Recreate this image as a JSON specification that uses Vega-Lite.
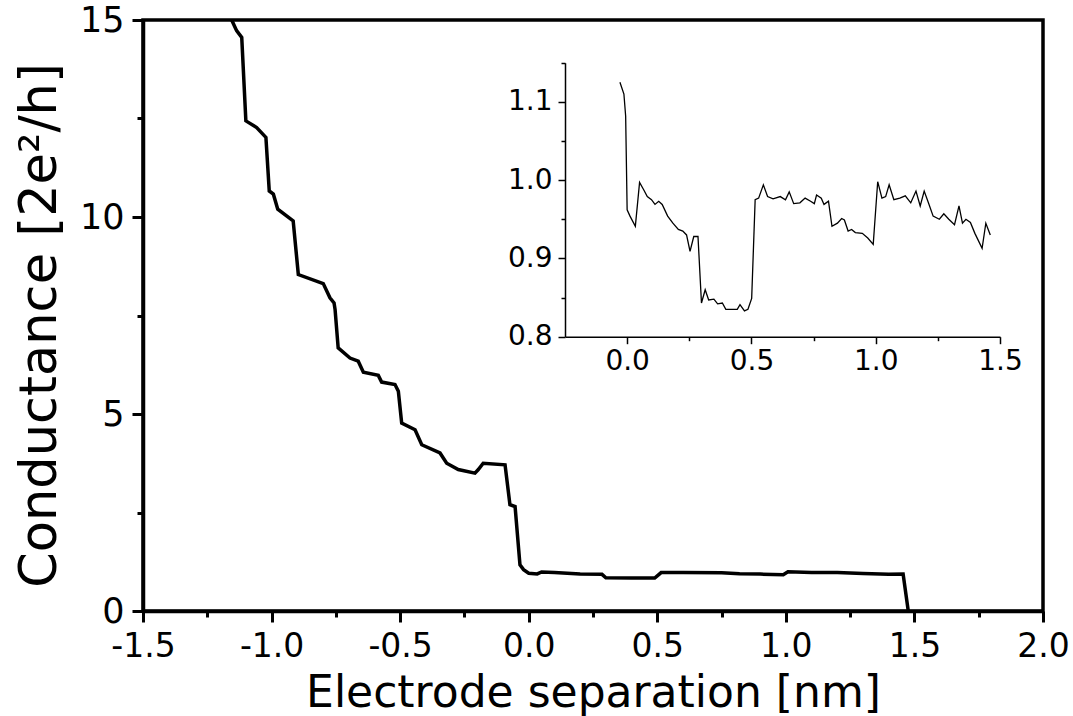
{
  "$schema": "https://vega.github.io/schema/vega-lite/v6.json",
  "width": 900,
  "height": 591,
  "autosize": {"type": "none"},
  "padding": {"left": 143, "top": 20, "right": 30, "bottom": 105},
  "background": "white",
  "config": {
    "view": {"stroke": "black", "strokeWidth": 3.5},
    "font": "DejaVu Sans",
    "axis": {"grid": false, "domainColor": "black", "tickColor": "black", "labelColor": "black", "titleColor": "black", "titleFontWeight": "normal"}
  },
  "datasets": {
    "main": [
      {"x": -1.17, "y": 15.3},
      {"x": -1.155, "y": 15.0},
      {"x": -1.136, "y": 14.73},
      {"x": -1.116, "y": 14.56},
      {"x": -1.1, "y": 12.44},
      {"x": -1.058, "y": 12.27},
      {"x": -1.022, "y": 12.02},
      {"x": -1.009, "y": 10.66},
      {"x": -0.993, "y": 10.58},
      {"x": -0.976, "y": 10.2},
      {"x": -0.916, "y": 9.9},
      {"x": -0.896, "y": 8.54},
      {"x": -0.799, "y": 8.31},
      {"x": -0.773, "y": 7.95},
      {"x": -0.757, "y": 7.82},
      {"x": -0.753, "y": 7.65},
      {"x": -0.741, "y": 6.68},
      {"x": -0.695, "y": 6.42},
      {"x": -0.663, "y": 6.34},
      {"x": -0.643, "y": 6.06},
      {"x": -0.585, "y": 5.98},
      {"x": -0.572, "y": 5.81},
      {"x": -0.52, "y": 5.75},
      {"x": -0.507, "y": 5.58},
      {"x": -0.494, "y": 4.77},
      {"x": -0.442, "y": 4.6},
      {"x": -0.416, "y": 4.22},
      {"x": -0.345, "y": 4.01},
      {"x": -0.319, "y": 3.75},
      {"x": -0.274, "y": 3.59},
      {"x": -0.209, "y": 3.5},
      {"x": -0.196, "y": 3.59},
      {"x": -0.177, "y": 3.75},
      {"x": -0.092, "y": 3.71},
      {"x": -0.073, "y": 2.7},
      {"x": -0.053, "y": 2.65},
      {"x": -0.034, "y": 1.17},
      {"x": -0.02, "y": 1.05},
      {"x": 0.0, "y": 0.96},
      {"x": 0.033, "y": 0.94},
      {"x": 0.05, "y": 0.99},
      {"x": 0.1, "y": 0.975},
      {"x": 0.2, "y": 0.94},
      {"x": 0.285, "y": 0.93},
      {"x": 0.3, "y": 0.845},
      {"x": 0.4, "y": 0.835},
      {"x": 0.49, "y": 0.835},
      {"x": 0.515, "y": 0.975},
      {"x": 0.6, "y": 0.978},
      {"x": 0.75, "y": 0.972},
      {"x": 0.82, "y": 0.945},
      {"x": 0.9, "y": 0.937},
      {"x": 0.99, "y": 0.92},
      {"x": 1.008, "y": 0.995},
      {"x": 1.1, "y": 0.977},
      {"x": 1.2, "y": 0.975},
      {"x": 1.3, "y": 0.95},
      {"x": 1.4, "y": 0.935},
      {"x": 1.456, "y": 0.94},
      {"x": 1.476, "y": 0.0}
    ],
    "inset": [
      {"x": -0.029, "y": 1.125},
      {"x": -0.013, "y": 1.11},
      {"x": -0.006, "y": 1.082},
      {"x": 0.0, "y": 0.962},
      {"x": 0.0115, "y": 0.954},
      {"x": 0.033, "y": 0.941},
      {"x": 0.05, "y": 0.997},
      {"x": 0.066, "y": 0.988},
      {"x": 0.081, "y": 0.979},
      {"x": 0.098, "y": 0.975},
      {"x": 0.112, "y": 0.969},
      {"x": 0.127, "y": 0.973},
      {"x": 0.141, "y": 0.969},
      {"x": 0.163, "y": 0.954},
      {"x": 0.184, "y": 0.945},
      {"x": 0.206, "y": 0.937},
      {"x": 0.224, "y": 0.935},
      {"x": 0.239, "y": 0.93},
      {"x": 0.253, "y": 0.909},
      {"x": 0.268, "y": 0.928},
      {"x": 0.285, "y": 0.928},
      {"x": 0.299, "y": 0.843},
      {"x": 0.314, "y": 0.86},
      {"x": 0.328, "y": 0.847},
      {"x": 0.349, "y": 0.848},
      {"x": 0.364, "y": 0.842},
      {"x": 0.383, "y": 0.843},
      {"x": 0.397, "y": 0.835},
      {"x": 0.443, "y": 0.835},
      {"x": 0.454, "y": 0.841},
      {"x": 0.472, "y": 0.833},
      {"x": 0.486, "y": 0.835},
      {"x": 0.501, "y": 0.849},
      {"x": 0.515, "y": 0.975},
      {"x": 0.529, "y": 0.977},
      {"x": 0.548, "y": 0.994},
      {"x": 0.565, "y": 0.979},
      {"x": 0.587, "y": 0.976},
      {"x": 0.616, "y": 0.979},
      {"x": 0.637, "y": 0.975},
      {"x": 0.652, "y": 0.985},
      {"x": 0.67, "y": 0.97},
      {"x": 0.695, "y": 0.971},
      {"x": 0.716, "y": 0.977},
      {"x": 0.738, "y": 0.973},
      {"x": 0.753, "y": 0.97},
      {"x": 0.762, "y": 0.981},
      {"x": 0.781, "y": 0.977},
      {"x": 0.792, "y": 0.969},
      {"x": 0.81, "y": 0.973},
      {"x": 0.824, "y": 0.941},
      {"x": 0.846, "y": 0.945},
      {"x": 0.863, "y": 0.951},
      {"x": 0.874, "y": 0.949},
      {"x": 0.889, "y": 0.935},
      {"x": 0.903, "y": 0.937},
      {"x": 0.918, "y": 0.933},
      {"x": 0.946, "y": 0.932},
      {"x": 0.968, "y": 0.926},
      {"x": 0.99, "y": 0.918},
      {"x": 1.008, "y": 0.998},
      {"x": 1.025, "y": 0.977},
      {"x": 1.04, "y": 0.979},
      {"x": 1.054, "y": 0.994},
      {"x": 1.073, "y": 0.975},
      {"x": 1.097, "y": 0.977},
      {"x": 1.119, "y": 0.98},
      {"x": 1.141, "y": 0.971},
      {"x": 1.162, "y": 0.986},
      {"x": 1.179, "y": 0.967},
      {"x": 1.195, "y": 0.986},
      {"x": 1.212, "y": 0.971},
      {"x": 1.231, "y": 0.954},
      {"x": 1.256, "y": 0.95},
      {"x": 1.274, "y": 0.957},
      {"x": 1.294, "y": 0.95},
      {"x": 1.317, "y": 0.943},
      {"x": 1.335, "y": 0.967},
      {"x": 1.349, "y": 0.945},
      {"x": 1.363, "y": 0.95},
      {"x": 1.381, "y": 0.946},
      {"x": 1.399, "y": 0.932},
      {"x": 1.428, "y": 0.913},
      {"x": 1.443, "y": 0.945},
      {"x": 1.461, "y": 0.93}
    ]
  },
  "layer": [
    {
      "data": {"name": "main"},
      "mark": {"type": "line", "color": "black", "strokeWidth": 3.5, "clip": true},
      "encoding": {
        "x": {
          "field": "x", "type": "quantitative",
          "scale": {"domain": [-1.5, 2], "nice": false, "zero": false},
          "axis": {
            "title": "Electrode separation [nm]",
            "values": [-1.5, -1.25, -1, -0.75, -0.5, -0.25, 0, 0.25, 0.5, 0.75, 1, 1.25, 1.5, 1.75, 2],
            "labelExpr": "(datum.value * 2) % 1 === 0 ? (datum.value < 0 ? '-' : '') + format(abs(datum.value), '.1f') : ''",
            "labelFontSize": 33,
            "labelPadding": 8,
            "labelFlush": false,
            "labelOverlap": false,
            "tickSize": {"condition": {"test": "(datum.value * 2) % 1 === 0", "value": 11}, "value": 6},
            "tickWidth": 3,
            "domainWidth": 3.5,
            "titleFontSize": 44,
            "titleY": 95,
            "titleBaseline": "alphabetic"
          }
        },
        "y": {
          "field": "y", "type": "quantitative",
          "scale": {"domain": [0, 15], "nice": false, "zero": false},
          "axis": {
            "title": "Conductance [2e²/h]",
            "values": [0, 2.5, 5, 7.5, 10, 12.5, 15],
            "labelExpr": "datum.value % 5 === 0 ? format(datum.value, 'd') : ''",
            "labelFontSize": 35,
            "labelPadding": 8,
            "labelFlush": false,
            "labelOverlap": false,
            "tickSize": {"condition": {"test": "datum.value % 5 === 0", "value": 11}, "value": 6},
            "tickWidth": 3,
            "domainWidth": 3.5,
            "titleFontSize": 51,
            "titleX": -88,
            "titleY": 305,
            "titleBaseline": "alphabetic"
          }
        }
      }
    },
    {
      "data": {"name": "inset"},
      "mark": {"type": "line", "color": "black", "strokeWidth": 1.3},
      "encoding": {
        "x": {
          "field": "x", "type": "quantitative",
          "scale": {"domain": [-0.25, 1.5], "nice": false, "zero": false, "range": [422, 857]},
          "axis": {
            "orient": "bottom",
            "offset": -274.3,
            "title": null,
            "values": [0, 0.25, 0.5, 0.75, 1, 1.25, 1.5],
            "labelExpr": "(datum.value * 2) % 1 === 0 ? format(datum.value, '.1f') : ''",
            "labelFontSize": 28,
            "labelPadding": 4,
            "labelFlush": false,
            "labelOverlap": false,
            "tickSize": {"condition": {"test": "(datum.value * 2) % 1 === 0", "value": 7}, "value": 4},
            "tickWidth": 1.5,
            "domainWidth": 1.5
          }
        },
        "y": {
          "field": "y", "type": "quantitative",
          "scale": {"domain": [0.8, 1.15], "nice": false, "zero": false, "range": [316.7, 42.7]},
          "axis": {
            "orient": "left",
            "offset": -422,
            "title": null,
            "values": [0.8, 0.85, 0.9, 0.95, 1.0, 1.05, 1.1, 1.15],
            "labelExpr": "abs(datum.value * 10 - round(datum.value * 10)) < 0.000001 ? format(datum.value, '.1f') : ''",
            "labelFontSize": 28,
            "labelPadding": 6,
            "labelFlush": false,
            "labelOverlap": false,
            "tickSize": {"condition": {"test": "abs(datum.value * 10 - round(datum.value * 10)) < 0.000001", "value": 7}, "value": 4},
            "tickWidth": 1.5,
            "domainWidth": 1.5
          }
        }
      }
    }
  ],
  "resolve": {
    "scale": {"x": "independent", "y": "independent"},
    "axis": {"x": "independent", "y": "independent"}
  }
}
